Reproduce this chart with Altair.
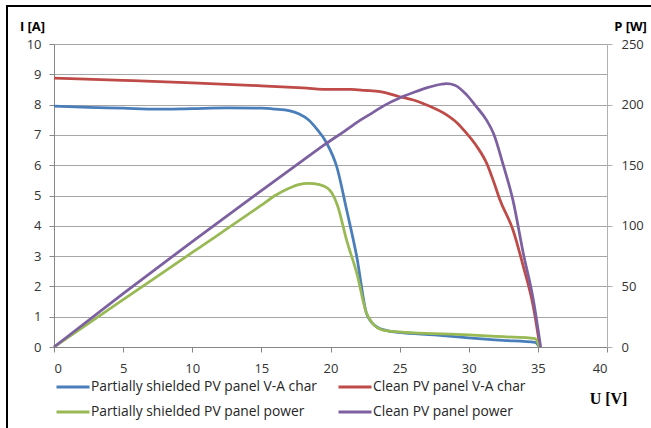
import altair as alt
import pandas as pd

# Partially shielded PV panel V-A characteristic (left axis, A)
U_ps_i = [0, 2.5, 5, 7.5, 10, 12.5, 15, 16, 17, 17.7, 18.4, 19.0, 19.7, 20.45, 21.17, 21.9, 22.6, 23.0, 23.4, 24, 25, 27.5, 30, 32.5, 34.8, 35.1]
I_ps = [7.95, 7.91, 7.88, 7.85, 7.87, 7.89, 7.88, 7.85, 7.8, 7.7, 7.5, 7.2, 6.75, 5.95, 4.52, 2.98, 1.11, 0.8, 0.65, 0.55, 0.48, 0.4, 0.3, 0.22, 0.15, 0.0]

# Clean PV panel V-A characteristic (left axis, A)
U_cl_i = [0, 5, 10, 15, 18, 20, 21.5, 22.5, 23.6, 25, 26, 27, 28.4, 29.2, 29.85, 30.6, 31.3, 31.8, 32.26, 33.2, 33.95, 34.67, 35.15]
I_cl = [8.87, 8.8, 8.72, 8.62, 8.55, 8.5, 8.5, 8.47, 8.43, 8.26, 8.15, 7.98, 7.66, 7.38, 7.05, 6.61, 6.06, 5.46, 4.85, 3.86, 2.65, 1.33, 0.0]

# Partially shielded PV panel power (right axis, W)
U_ps_p = [0, 5, 10, 15, 16, 17, 17.7, 18.4, 19.2, 19.8, 20.1, 20.5, 21.17, 21.9, 22.6, 23.0, 23.8, 25, 27.5, 30, 32.5, 34.8, 35.1]
P_ps = [0, 39, 78, 117, 125, 131, 134, 135, 134, 131, 127, 117, 88, 61, 28, 20, 14, 12.5, 11, 10, 8.5, 7, 0]

# Clean PV panel power (right axis, W)
U_cl_p = [0, 5, 10, 15, 18, 19.7, 21, 22, 23, 24, 25, 26, 27, 28, 28.4, 29, 29.85, 30.5, 31.3, 31.8, 32.5, 33.2, 33.95, 34.67, 35.2]
P_cl = [0, 44, 87, 129, 154, 168, 178, 186, 193, 200, 205.5, 210, 214, 216.8, 217.3, 216, 208, 199, 187, 176, 150, 121, 77, 39, 0]

SERIES = [
    "Partially shielded PV panel V-A char",
    "Clean PV panel V-A char",
    "Partially shielded PV  panel power",
    "Clean PV panel power",
]
COLORS = ["#4A7EBB", "#BE4B48", "#98B954", "#7D60A0"]
# legend entries are laid out column by column
LEGEND_ORDER = [SERIES[0], SERIES[2], SERIES[1], SERIES[3]]

cur = pd.concat([
    pd.DataFrame({"U": U_ps_i, "I": I_ps, "series": SERIES[0], "o": range(len(U_ps_i))}),
    pd.DataFrame({"U": U_cl_i, "I": I_cl, "series": SERIES[1], "o": range(len(U_cl_i))}),
])
pwr = pd.concat([
    pd.DataFrame({"U": U_ps_p, "P": P_ps, "series": SERIES[2], "o": range(len(U_ps_p))}),
    pd.DataFrame({"U": U_cl_p, "P": P_cl, "series": SERIES[3], "o": range(len(U_cl_p))}),
])

FONT = "Open Sans"

color = alt.Color(
    "series:N",
    scale=alt.Scale(domain=SERIES, range=COLORS),
    legend=alt.Legend(
        title=None, orient="none", legendX=1, legendY=325, columns=2,
        values=LEGEND_ORDER,
        columnPadding=15, rowPadding=-8, symbolType="stroke", symbolSize=1089,
        symbolStrokeWidth=3, labelOffset=0, labelFont=FONT, labelFontSize=13.8,
        labelColor="#262626", labelLimit=400,
    ),
)

xenc = alt.X(
    "U:Q",
    scale=alt.Scale(domain=[0, 40], nice=False),
    axis=alt.Axis(
        values=[0, 5, 10, 15, 20, 25, 30, 35, 40], grid=False, title="U [V]",
        titleAngle=0, titleX=554, titleY=51, titleAlign="center",
        titleBaseline="middle", titleFont="Liberation Serif", titleFontSize=16,
        titleFontWeight="bold", titleColor="#000000",
        labelFont=FONT, labelFontSize=13, labelColor="#333333", labelPadding=10,
        domainColor="#868686", tickColor="#868686", tickSize=5,
    ),
)

left = alt.Chart(cur).mark_line(strokeWidth=2.75, interpolate="monotone").encode(
    x=xenc,
    y=alt.Y(
        "I:Q",
        scale=alt.Scale(domain=[0, 10], nice=False),
        axis=alt.Axis(
            values=list(range(11)), title="I [A]", titleAngle=0, titleX=-22,
            titleY=-18, titleAlign="center", titleBaseline="middle",
            titleFont=FONT, titleFontSize=13, titleFontWeight="bold",
            titleColor="#000000", labelFont=FONT, labelFontSize=13,
            labelColor="#333333", labelPadding=8, grid=True, gridColor="#A6A6A6",
            gridWidth=1, domainColor="#868686", tickColor="#868686", tickSize=5,
        ),
    ),
    color=color,
    order="o:Q",
)

right = alt.Chart(pwr).mark_line(strokeWidth=2.75, interpolate="monotone").encode(
    x=xenc,
    y=alt.Y(
        "P:Q",
        scale=alt.Scale(domain=[0, 250], nice=False),
        axis=alt.Axis(
            orient="right", values=[0, 50, 100, 150, 200, 250], title="P [W]",
            titleAngle=0, titleX=23, titleY=-18, titleAlign="center",
            titleBaseline="middle", titleFont=FONT, titleFontSize=13,
            titleFontWeight="bold", titleColor="#000000", labelFont=FONT,
            labelFontSize=13, labelColor="#333333", labelPadding=9, grid=False,
            domainColor="#B0B0B0", tickColor="#B0B0B0", tickSize=5,
        ),
    ),
    color=color,
    order="o:Q",
)

frame = alt.Chart(alt.Data(values=[{}]))
border_left = frame.mark_rule(color="#000000", strokeWidth=2).encode(
    x=alt.value(-47), y=alt.value(-38), y2=alt.value(384)
)
border_top = frame.mark_rule(color="#000000", strokeWidth=2).encode(
    x=alt.value(-48), x2=alt.value(600), y=alt.value(-38)
)

chart = (
    alt.layer(left, right, border_left, border_top)
    .resolve_scale(y="independent")
    .properties(
        width=553, height=303,
        padding={"left": 54, "top": 44, "right": 44, "bottom": 81},
        autosize=alt.AutoSizeParams(type="none"),
        background="#FFFFFF",
    )
    .configure_view(stroke=None)
)

chart.save("out.html", embed_options={"renderer": "svg", "actions": False})
